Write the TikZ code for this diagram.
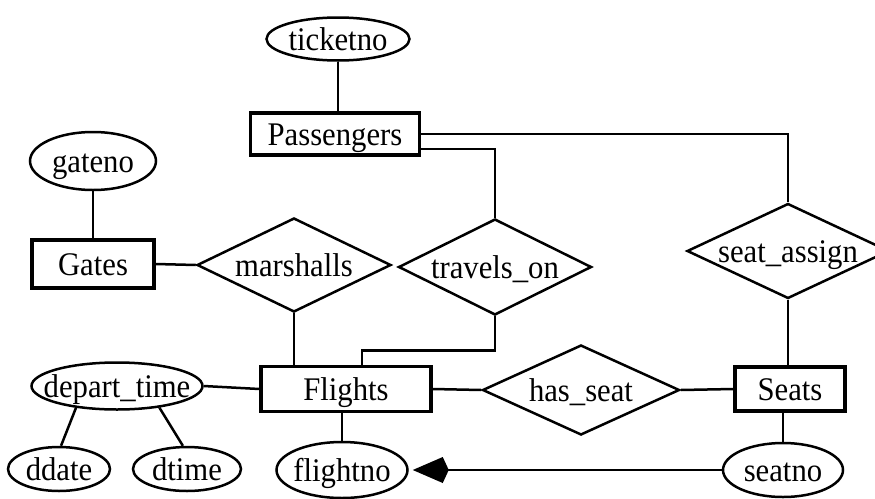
\documentclass[tikz,border=0pt]{standalone}
\usepackage{fontspec}
\setmainfont{Liberation Serif}[FakeStretch=0.93]
\usetikzlibrary{shapes.geometric,arrows.meta,positioning,calc}

\begin{document}
\begin{tikzpicture}[
    x=1pt, y=-1pt,
    font=\fontsize{33}{38}\selectfont,
    every node/.style={text height=22pt, text depth=0pt},
    entity/.style={rectangle, draw, line width=3.3pt, inner sep=0pt},
    attrib/.style={ellipse, draw, line width=2.5pt, inner xsep=-30pt, inner ysep=-5pt},
    relation/.style={diamond, draw, line width=2.5pt, aspect=2, inner xsep=-40pt, inner ysep=-10pt},
    link/.style={line width=2.5pt}
]
    \useasboundingbox[fill=white] (0,0) rectangle (875,498);

    % entities
    \node[entity, minimum width=169pt, minimum height=42pt] (pass) at (335,134) {Passengers};
    \node[entity, minimum width=122pt, minimum height=48pt] (gates) at (93,264) {Gates};
    \node[entity, minimum width=170pt, minimum height=45pt] (flights) at (346,389) {Flights};
    \node[entity, minimum width=110pt, minimum height=44pt] (seats) at (790,389) {Seats};

    % attributes
    \node[attrib, minimum width=143pt, minimum height=43pt] (tno) at (338,39) {ticketno};
    \node[attrib, minimum width=126pt, minimum height=58pt] (gno) at (93,161) {gateno};
    \node[attrib, minimum width=171pt, minimum height=47pt] (dept) at (117,386) {depart\_time};
    \node[attrib, minimum width=102pt, minimum height=44pt] (ddate) at (59,469) {ddate};
    \node[attrib, minimum width=108pt, minimum height=44pt] (dtime) at (187,469) {dtime};
    \node[attrib, minimum width=131pt, minimum height=56pt] (fno) at (342,470) {flightno};
    \node[attrib, minimum width=120pt, minimum height=54pt] (sno) at (783,470) {seatno};

    % relationships
    \node[relation, minimum width=194pt, minimum height=94pt] (marsh) at (294,265) {marshalls};
    \node[relation, minimum width=193pt, minimum height=96pt] (trav) at (495,267) {travels\_on};
    \node[relation, minimum width=202pt, minimum height=95pt] (sassign) at (788,251) {seat\_assign};
    \node[relation, minimum width=197pt, minimum height=90pt] (hseat) at (581,390) {has\_seat};

    \draw[link] (tno.south) -- (tno.south |- pass.north);
    \draw[link] (gno) -- (gates);
    \draw[link] (gates.east) -- (marsh.west);
    \draw[link] (marsh.south) -- (marsh.south |- flights.north);
    \draw[link] (pass.east) -| (sassign.north);
    \draw[link] ([yshift=-15pt]pass.east) -| (trav.north);
    \draw[link] (trav.south) -- ++(0,34) -| ([xshift=16pt]flights.north);
    \draw[link] (flights.east) -- (hseat.west);
    \draw[link] (hseat.east) -- (seats.west);
    \draw[link] (sassign.south) -- (sassign.south |- seats.north);
    \draw[link] (dept.east) -- (flights.west);
    \draw[link] (dept.208) -- (ddate.85);
    \draw[link] (dept.333) -- (dtime.100);
    \draw[link] (fno.north |- flights.south) -- (fno.north);
    \draw[link] (sno.north |- seats.south) -- (sno.north);
    \draw[link, shorten >=4pt, -{Kite[length=36pt, width=26pt, inset=6pt]}] (sno) -- (fno);
\end{tikzpicture}
\end{document}
